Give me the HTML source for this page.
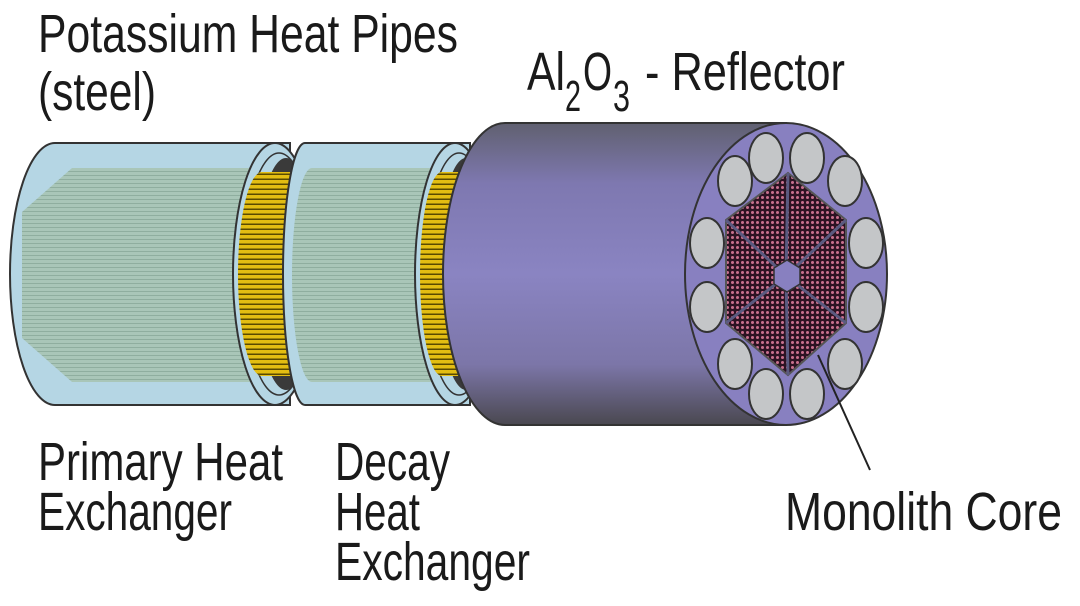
<!DOCTYPE html>
<html><head><meta charset="utf-8"><style>
html,body{margin:0;padding:0;background:#fff;width:1080px;height:606px;overflow:hidden}
svg{display:block}
text{font-family:"Liberation Sans",sans-serif;font-size:54px;fill:#1a1a1a}
</style></head><body>
<svg width="1080" height="606" viewBox="0 0 1080 606" xmlns="http://www.w3.org/2000/svg">
<defs>
<pattern id="hl" width="6" height="4" patternUnits="userSpaceOnUse">
<rect width="6" height="4" fill="#a9c6b8"/><rect y="3" width="6" height="1" fill="#8fae9f"/>
</pattern>
<pattern id="yl" width="6" height="5" patternUnits="userSpaceOnUse">
<rect width="6" height="5" fill="#e3bd12"/><rect y="3.5" width="6" height="1.5" fill="#5a4a00"/>
</pattern>
<pattern id="dots" width="5" height="5" patternUnits="userSpaceOnUse">
<rect width="5" height="5" fill="#2c1222"/><circle cx="2.5" cy="2.5" r="1.5" fill="#c8708e"/>
</pattern>
<linearGradient id="pg" x1="0" y1="0" x2="0" y2="1">
<stop offset="0" stop-color="#606070"/><stop offset="0.2" stop-color="#7e78b0"/>
<stop offset="0.5" stop-color="#8a84c2"/><stop offset="0.8" stop-color="#7c76a8"/>
<stop offset="1" stop-color="#4a4850"/></linearGradient>
</defs>

<!-- Primary HX -->
<path d="M55,143 L290,143 L290,405 L55,405 A45,131 0 0 1 55,143 Z" fill="#b5d6e4" stroke="#333" stroke-width="2"/>
<polygon points="72,168 280,168 280,382 72,382 22,338 22,212" fill="url(#hl)"/>
<ellipse cx="275" cy="274" rx="42" ry="131" fill="#b5d6e4" stroke="#333" stroke-width="2"/>
<ellipse cx="279" cy="274" rx="36" ry="121" fill="none" stroke="#333" stroke-width="1.5"/>
<ellipse cx="286" cy="274" rx="30" ry="116" fill="#3a3a3a"/>
<path d="M262,172 A24,102 0 0 0 262,376 L310,376 L310,172 Z" fill="url(#yl)"/>

<!-- Decay HX -->
<path d="M305,143 L470,143 L470,405 L305,405 A22,131 0 0 1 305,143 Z" fill="#b5d6e4" stroke="#333" stroke-width="2"/>
<path d="M312,168 L462,168 L462,382 L312,382 A20,107 0 0 1 312,168 Z" fill="url(#hl)"/>
<ellipse cx="455" cy="274" rx="40" ry="131" fill="#b5d6e4" stroke="#333" stroke-width="2"/>
<ellipse cx="459" cy="274" rx="34" ry="121" fill="none" stroke="#333" stroke-width="1.5"/>
<ellipse cx="466" cy="274" rx="28" ry="116" fill="#3a3a3a"/>
<path d="M442,172 A22,102 0 0 0 442,376 L480,376 L480,172 Z" fill="url(#yl)"/>

<!-- Reflector -->
<path d="M505,123 L786,123 L786,425 L505,425 A62,151 0 0 1 505,123 Z" fill="url(#pg)" stroke="#333" stroke-width="2"/>
<ellipse cx="786" cy="274" rx="101" ry="151" fill="#8880c0" stroke="#333" stroke-width="2"/>
<polygon points="788,173 846,220 846,323 788,375 726,323 726,220" fill="url(#dots)" stroke="#555" stroke-width="2"/>
<g stroke="#5a5a80" stroke-width="3">
<line x1="786" y1="276" x2="788" y2="173"/><line x1="786" y1="276" x2="846" y2="220"/>
<line x1="786" y1="276" x2="846" y2="323"/><line x1="786" y1="276" x2="788" y2="375"/>
<line x1="786" y1="276" x2="726" y2="323"/><line x1="786" y1="276" x2="726" y2="220"/>
</g>
<polygon points="787,260 800,268 800,284 787,292 774,284 774,268" fill="#8880c0" stroke="#333" stroke-width="1.5"/>
<g fill="#c4c6c8" stroke="#333" stroke-width="2">
<ellipse cx="766" cy="158" rx="17" ry="25"/><ellipse cx="807" cy="158" rx="17" ry="25"/>
<ellipse cx="735" cy="181" rx="17" ry="25"/><ellipse cx="845" cy="181" rx="17" ry="25"/>
<ellipse cx="707" cy="243" rx="17" ry="25"/><ellipse cx="866" cy="243" rx="17" ry="25"/>
<ellipse cx="707" cy="307" rx="17" ry="25"/><ellipse cx="866" cy="307" rx="17" ry="25"/>
<ellipse cx="735" cy="364" rx="17" ry="25"/><ellipse cx="845" cy="364" rx="17" ry="25"/>
<ellipse cx="766" cy="394" rx="17" ry="25"/><ellipse cx="807" cy="394" rx="17" ry="25"/>
</g>
<line x1="818" y1="355" x2="870" y2="470" stroke="#222" stroke-width="2"/>

<!-- Labels -->
<text x="38" y="52" textLength="420" lengthAdjust="spacingAndGlyphs">Potassium Heat Pipes</text>
<text x="38" y="110" textLength="118" lengthAdjust="spacingAndGlyphs">(steel)</text>
<text x="527" y="90" textLength="38" lengthAdjust="spacingAndGlyphs">Al</text>
<text x="565" y="111" style="font-size:44px" textLength="16" lengthAdjust="spacingAndGlyphs">2</text>
<text x="583" y="90" textLength="29" lengthAdjust="spacingAndGlyphs">O</text>
<text x="613" y="111" style="font-size:44px" textLength="17" lengthAdjust="spacingAndGlyphs">3</text>
<text x="645" y="90" textLength="200" lengthAdjust="spacingAndGlyphs">- Reflector</text>
<text x="38" y="480" textLength="245" lengthAdjust="spacingAndGlyphs">Primary Heat</text>
<text x="38" y="530" textLength="194" lengthAdjust="spacingAndGlyphs">Exchanger</text>
<text x="335" y="480" textLength="115" lengthAdjust="spacingAndGlyphs">Decay</text>
<text x="335" y="530" textLength="85" lengthAdjust="spacingAndGlyphs">Heat</text>
<text x="335" y="580" textLength="195" lengthAdjust="spacingAndGlyphs">Exchanger</text>
<text x="785" y="530" textLength="277" lengthAdjust="spacingAndGlyphs">Monolith Core</text>
</svg>
</body></html>
